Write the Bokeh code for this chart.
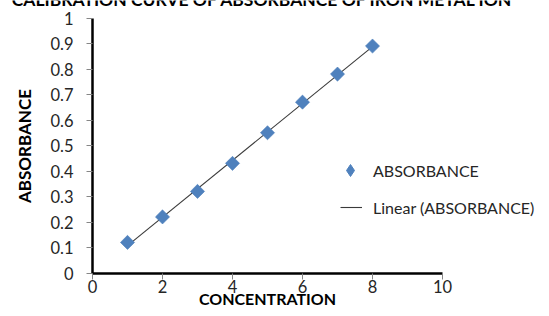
import numpy as np
from bokeh.plotting import figure
from bokeh.models import Range1d, Legend, LegendItem, FixedTicker, Label
from bokeh.embed import file_html
from bokeh.resources import INLINE

concentration = [1, 2, 3, 4, 5, 6, 7, 8]
absorbance = [0.12, 0.22, 0.32, 0.43, 0.55, 0.67, 0.78, 0.89]
x_ticks = [0, 2, 4, 6, 8, 10]
y_ticks = [0, 0.1, 0.2, 0.3, 0.4, 0.5, 0.6, 0.7, 0.8, 0.9, 1]
title_text = "CALIBRATION CURVE OF ABSORBANCE OF IRON METAL ION"
x_title = "CONCENTRATION"
y_title = "ABSORBANCE"
series_name = "ABSORBANCE"
trend_name = "Linear (ABSORBANCE)"

FONT = "Lato"
TXT = "#262626"
BLUE = "#4F81BD"

# layout (pixels): canvas and where the axes sit
W, H = 541, 308
X0PX, XPU = 92.0, 35.0          # x=0 at 92px, 35 px per unit
Y0PX, Y1PX = 272.5, 17.5        # y=0 and y=1 pixel rows
YPU = Y0PX - Y1PX


def xd(px):
    return (px - X0PX) / XPU


def yd(py):
    return (Y0PX - py) / YPU


p = figure(width=W, height=H, output_backend="svg", toolbar_location=None,
           x_range=Range1d(xd(0), xd(W)), y_range=Range1d(yd(H), yd(0)),
           min_border_left=0, min_border_right=0, min_border_top=0, min_border_bottom=0)
p.outline_line_color = None
p.xgrid.grid_line_color = None
p.ygrid.grid_line_color = None

for ax in (p.xaxis[0], p.yaxis[0]):
    ax.axis_line_color = "black"
    ax.axis_line_width = 2.5
    ax.major_tick_line_color = "#868686"
    ax.major_tick_in = 0
    ax.major_tick_out = 6
    ax.minor_tick_line_color = None
    ax.major_label_text_font = FONT
    ax.major_label_text_font_size = "16.5px"
    ax.major_label_text_color = TXT

p.xaxis.bounds = (0, 10)
p.yaxis.bounds = (0, 1)
p.xaxis.fixed_location = 0
p.yaxis.fixed_location = 0
p.xaxis.ticker = FixedTicker(ticks=x_ticks)
p.yaxis.ticker = FixedTicker(ticks=y_ticks)
p.xaxis.major_label_standoff = 1
p.yaxis.major_label_standoff = 13

# axis titles and (cut-off) chart title, positioned by cap-height centre
p.add_layout(Label(x=xd(267), y=yd(298), text=x_title, text_align="center",
                   text_baseline="middle", text_font=FONT, text_font_style="bold",
                   text_font_size="16px", text_color="black"))
p.add_layout(Label(x=xd(23.5), y=yd(145.5), text=y_title, angle=np.pi / 2,
                   text_align="center", text_baseline="middle", text_font=FONT,
                   text_font_style="bold", text_font_size="17px", text_color="black"))
p.add_layout(Label(x=xd(262), y=yd(-1.5), text=title_text, text_align="center",
                   text_baseline="middle", text_font=FONT, text_font_style="bold",
                   text_font_size="17.5px", text_color="black"))

# linear trendline from least squares fit
xs = np.array(concentration, dtype=float)
ys = np.array(absorbance, dtype=float)
m, b = np.polyfit(xs, ys, 1)
tx = [xs.min(), xs.max()]
ty = [m * v + b for v in tx]

ln = p.line(tx, ty, line_color="#3a3a3a", line_width=1.1)
sc = p.scatter(concentration, absorbance, marker="square", angle=np.pi / 4, size=10,
               fill_color=BLUE, line_color=BLUE, line_alpha=0.6)
# hidden diamond version of the same series, used only for the legend swatch
leg_marker = p.scatter(concentration, absorbance, marker="diamond",
                       fill_color=BLUE, line_color=BLUE, visible=False)


def style_legend(lg, gw, gh, standoff):
    lg.border_line_color = None
    lg.background_fill_alpha = 0
    lg.inactive_fill_alpha = 0
    lg.label_text_font = FONT
    lg.label_text_font_size = "16px"
    lg.label_text_color = TXT
    lg.glyph_width = gw
    lg.glyph_height = gh
    lg.label_height = gh
    lg.label_standoff = standoff
    lg.padding = 0
    lg.margin = 0
    lg.spacing = 0


leg1 = Legend(items=[LegendItem(label=series_name, renderers=[leg_marker])],
              location=(335, H - 185))
style_legend(leg1, 30, 30, 8)
leg2 = Legend(items=[LegendItem(label=trend_name, renderers=[ln])],
              location=(340, H - 217))
style_legend(leg2, 22, 20, 11)
p.add_layout(leg1, "center")
p.add_layout(leg2, "center")

open("out.html", "w").write(file_html(p, INLINE))
